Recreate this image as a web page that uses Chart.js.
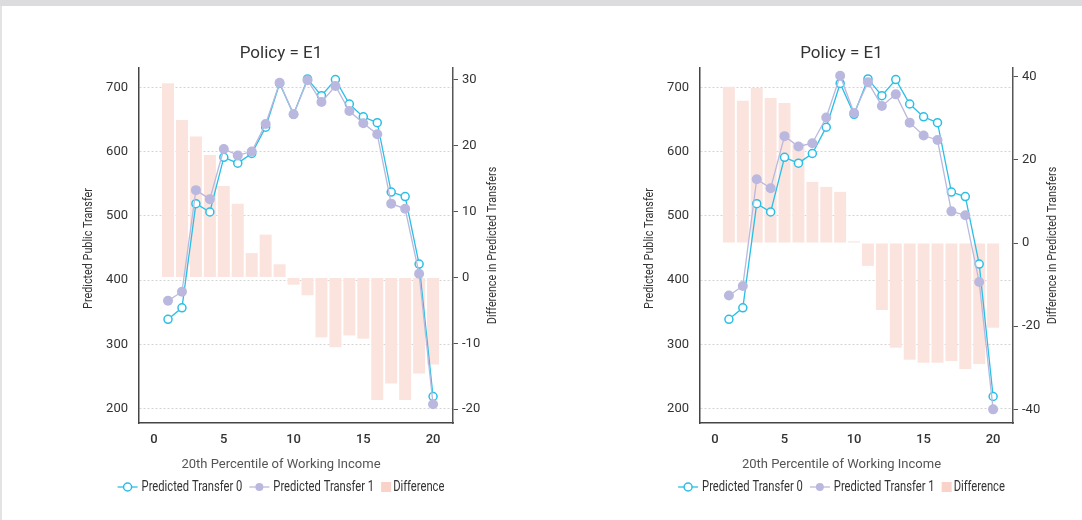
<!DOCTYPE html>
<html>
<head>
<meta charset="utf-8">
<script src="https://cdn.jsdelivr.net/npm/chart.js@4.4.1/dist/chart.umd.min.js"></script>
<style>
    html, body { margin: 0; padding: 0; background: #fff; }
    body { position: relative; width: 1082px; height: 520px; overflow: hidden; }
    #band { position: absolute; left: 0; top: 0; width: 1082px; height: 6px; background: #dcdcde; }
    #edge { position: absolute; left: 0; top: 6px; width: 2px; height: 514px; background: #e3e3e3; z-index: 2; }
    canvas { position: absolute; top: 6px; }
    #leftChart { left: 0; }
    #rightChart { left: 601px; }
</style>
</head>
<body>
<div id="band"></div>
<div id="edge"></div>
<canvas id="leftChart" width="562" height="514"></canvas>
<canvas id="rightChart" width="481" height="514"></canvas>
<script>
// values
const percentiles = [1, 2, 3, 4, 5, 6, 7, 8, 9, 10, 11, 12, 13, 14, 15, 16, 17, 18, 19, 20];
const transfer0 = [339, 357, 519, 506, 591, 582, 597, 638, 706, 658, 713, 687, 712, 674, 654, 645, 537, 530, 425, 219];
const leftTransfer1 = [368, 382, 540, 526, 604, 594, 600, 643, 707, 658, 711, 677, 702, 663, 644, 627, 519, 511, 410, 207];
const leftDifference = [29.5, 23.9, 21.4, 18.6, 13.9, 11.2, 3.7, 6.5, 2.0, -1.1, -2.7, -9.1, -10.6, -8.8, -9.3, -18.6, -16.1, -18.6, -14.6, -13.2];
const rightTransfer1 = [376, 391, 557, 543, 624, 608, 613, 653, 718, 660, 708, 671, 689, 645, 625, 618, 507, 501, 397, 199];
const rightDifference = [37.6, 34.2, 37.3, 34.9, 33.7, 24.0, 14.7, 13.5, 12.3, 0.4, -5.5, -16.1, -25.2, -28.1, -28.8, -28.8, -28.4, -30.3, -29.1, -20.4];

const xTicks = [0, 5, 10, 15, 20];
const transferTicks = [200, 300, 400, 500, 600, 700];
const leftDiffTicks = [-20, -10, 0, 10, 20, 30];
const rightDiffTicks = [-40, -20, 0, 20, 40];

const xRange = [-1.08, 21.43];
const transferRange = [177.8, 730];
const leftDiffRange = [-22.1, 31.8];
const rightDiffRange = [-43.3, 42.1];

const panelTitle = 'Policy = E1';
const xTitle = '20th Percentile of Working Income';
const transferTitle = 'Predicted Public Transfer';
const diffTitle = 'Difference in Predicted Transfers';
const seriesNames = ['Predicted Transfer 0', 'Predicted Transfer 1', 'Difference'];

const cyan = '#2bbfe6';
const lavender = '#bab8de';
const barPink = '#fbe4de';
const legendPink = '#f9d3c7';
// no condensed face is installed, so narrow Roboto by hand
const squeeze = 0.8;

function points(values) {
    return percentiles.map((x, i) => ({x: x, y: values[i]}));
}

function fixedTicks(values) {
    return function (scale) {
        scale.ticks = values.map(v => ({value: v}));
    };
}

function narrowText(ctx, text, x, y, angle) {
    ctx.save();
    ctx.translate(x, y);
    if (angle) ctx.rotate(angle);
    ctx.scale(squeeze, 1);
    ctx.fillText(text, 0, 0);
    ctx.restore();
}

function drawLegend(ctx, mid, y) {
    ctx.font = '14px Roboto';
    const items = [
        {label: seriesNames[0], kind: 'hollow', color: cyan},
        {label: seriesNames[1], kind: 'filled', color: lavender},
        {label: seriesNames[2], kind: 'box', color: legendPink}
    ];
    let total = 0;
    items.forEach(item => {
        item.symbol = item.kind === 'box' ? 10 : 20;
        item.gap = item.kind === 'box' ? 2 : 4;
        item.textWidth = ctx.measureText(item.label).width * squeeze;
        total += item.symbol + item.gap + item.textWidth;
    });
    total += 7 * (items.length - 1);
    let x = mid - total / 2;
    items.forEach(item => {
        if (item.kind === 'box') {
            ctx.fillStyle = item.color;
            ctx.fillRect(x, y - 5, 10, 10);
        } else {
            ctx.strokeStyle = item.color;
            ctx.lineWidth = 1.3;
            ctx.beginPath();
            ctx.moveTo(x, y);
            ctx.lineTo(x + 20, y);
            ctx.stroke();
            ctx.beginPath();
            ctx.arc(x + 10, y, 4, 0, Math.PI * 2);
            ctx.fillStyle = item.kind === 'hollow' ? '#fff' : item.color;
            ctx.fill();
            if (item.kind === 'hollow') {
                ctx.lineWidth = 1.5;
                ctx.stroke();
            }
        }
        x += item.symbol + item.gap;
        ctx.fillStyle = '#333';
        ctx.textAlign = 'left';
        narrowText(ctx, item.label, x, y);
        x += item.textWidth + 7;
    });
}

const panelText = {
    id: 'panelText',
    afterDraw(chart) {
        const ctx = chart.ctx;
        const area = chart.chartArea;
        const mid = chart.width / 2;
        const midY = (area.top + area.bottom) / 2;
        ctx.save();
        ctx.textBaseline = 'middle';
        ctx.textAlign = 'center';
        ctx.fillStyle = '#333';
        ctx.font = '17px Roboto';
        ctx.fillText(panelTitle, mid, area.top - 14);
        ctx.font = '13.5px Roboto';
        narrowText(ctx, transferTitle, area.left - 50.5, midY + 3, -Math.PI / 2);
        narrowText(ctx, diffTitle, area.right + 39.5, midY, -Math.PI / 2);
        ctx.fillStyle = '#555';
        ctx.font = '13px Roboto';
        ctx.fillText(xTitle, mid, area.bottom + 42);
        drawLegend(ctx, mid, area.bottom + 64);
        ctx.restore();
    }
};

function makePanel(canvasId, transfer1, difference, diffRange, diffTicks, leftWidth, rightWidth) {
    return new Chart(document.getElementById(canvasId), {
        type: 'bar',
        data: {
            datasets: [
                {
                    type: 'line', label: seriesNames[0], data: points(transfer0), yAxisID: 'y', order: 2,
                    borderColor: cyan, borderWidth: 1.3, pointRadius: 4, pointBorderWidth: 1.5,
                    pointBackgroundColor: '#fff', pointBorderColor: cyan, tension: 0
                },
                {
                    type: 'line', label: seriesNames[1], data: points(transfer1), yAxisID: 'y', order: 1,
                    borderColor: lavender, borderWidth: 1.3, pointRadius: 5, pointBorderWidth: 0,
                    pointBackgroundColor: lavender, pointBorderColor: lavender, tension: 0
                },
                {
                    type: 'bar', label: seriesNames[2], data: points(difference), yAxisID: 'y2', order: 3,
                    backgroundColor: barPink, borderWidth: 0, categoryPercentage: 1, barPercentage: 0.86
                }
            ]
        },
        options: {
            responsive: false,
            animation: false,
            layout: {padding: {top: 62, bottom: 72, left: 0, right: 0}},
            plugins: {legend: {display: false}, tooltip: {enabled: false}, title: {display: false}},
            scales: {
                x: {
                    type: 'linear', offset: false, min: xRange[0], max: xRange[1],
                    afterBuildTicks: fixedTicks(xTicks),
                    afterFit(scale) { scale.height = 25; },
                    grid: {display: false, drawTicks: false, offset: false},
                    border: {display: true, color: '#444', width: 1.5},
                    ticks: {padding: 9, color: '#333', font: {family: 'Roboto', size: 13, weight: '500'}}
                },
                y: {
                    position: 'left', min: transferRange[0], max: transferRange[1],
                    afterBuildTicks: fixedTicks(transferTicks),
                    afterFit(scale) { scale.width = leftWidth; },
                    grid: {display: true, drawTicks: false, color: '#d4d4d4', lineWidth: 1},
                    border: {display: true, color: '#444', width: 1.5, dash: [2, 2]},
                    ticks: {padding: 11, color: '#333', font: {family: 'Roboto', size: 13}}
                },
                y2: {
                    position: 'right', min: diffRange[0], max: diffRange[1],
                    afterBuildTicks: fixedTicks(diffTicks),
                    afterFit(scale) { scale.width = rightWidth; },
                    grid: {display: true, drawOnChartArea: false, drawTicks: true, tickLength: 5, tickColor: '#555', tickWidth: 1},
                    border: {display: true, color: '#555', width: 1.5},
                    ticks: {padding: 4, color: '#333', font: {family: 'Roboto', size: 13}}
                }
            }
        },
        plugins: [panelText]
    });
}

makePanel('leftChart', leftTransfer1, leftDifference, leftDiffRange, leftDiffTicks, 139, 109);
makePanel('rightChart', rightTransfer1, rightDifference, rightDiffRange, rightDiffTicks, 99, 69);
</script>
</body>
</html>
